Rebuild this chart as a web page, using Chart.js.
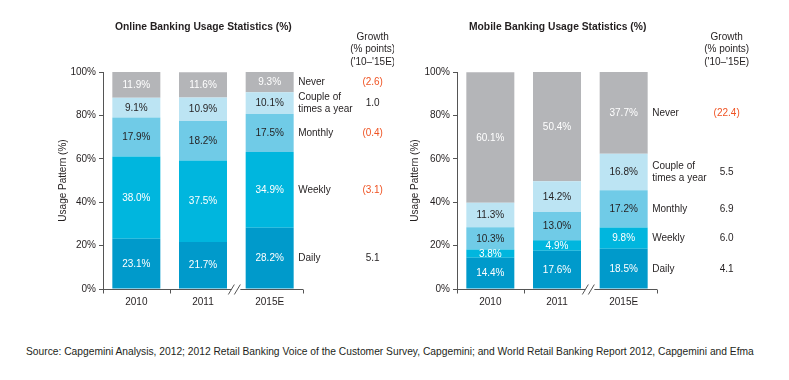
<!DOCTYPE html>
<html>
<head>
<meta charset="utf-8">
<script src="https://cdn.jsdelivr.net/npm/chart.js@4"></script>
<style>
  html, body { margin: 0; padding: 0; background: #fff; }
  body { width: 789px; height: 380px; position: relative; overflow: hidden; font-family: "Liberation Sans", Arial, sans-serif; }
  #c1 { position: absolute; left: 0; top: 0; }
  #c2 { position: absolute; left: 394px; top: 0; }
  #src { position: absolute; left: 26px; top: 346px; font-size: 10.25px; color: #231f20; white-space: nowrap; }
</style>
</head>
<body>
<canvas id="c1" width="394" height="330"></canvas>
<canvas id="c2" width="395" height="330"></canvas>
<div id="src">Source: Capgemini Analysis, 2012; 2012 Retail Banking Voice of the Customer Survey, Capgemini; and World Retail Banking Report 2012, Capgemini and Efma</div>
<script>
// ---- data ----
const categories = ['2010', '2011', '2015E'];
const seriesNames = ['Daily', 'Weekly', 'Monthly', 'Couple of times a year', 'Never'];
const seriesLegend = [['Daily'], ['Weekly'], ['Monthly'], ['Couple of', 'times a year'], ['Never']];

const onlineDaily   = [23.1, 21.7, 28.2];
const onlineWeekly  = [38.0, 37.5, 34.9];
const onlineMonthly = [17.9, 18.2, 17.5];
const onlineCouple  = [9.1, 10.9, 10.1];
const onlineNever   = [11.9, 11.6, 9.3];
const onlineGrowth  = ['5.1', '(3.1)', '(0.4)', '1.0', '(2.6)'];

const mobileDaily   = [14.4, 17.6, 18.5];
const mobileWeekly  = [3.8, 4.9, 9.8];
const mobileMonthly = [10.3, 13.0, 17.2];
const mobileCouple  = [11.3, 14.2, 16.8];
const mobileNever   = [60.1, 50.4, 37.7];
const mobileGrowth  = ['4.1', '6.0', '6.9', '5.5', '(22.4)'];

const yTicks = [0, 20, 40, 60, 80, 100];
const titles = ['Online Banking Usage Statistics (%)', 'Mobile Banking Usage Statistics (%)'];
const growthHeader = ['Growth', '(% points)', "('10\u2013'15E)"];
const yTitle = 'Usage Pattern (%)';

// ---- styling ----
const colors = ['#009acb', '#00b6de', '#70cbe7', '#bce4f3', '#b4b5b8'];
const labelColors = ['#ffffff', '#ffffff', '#231f20', '#231f20', '#ffffff'];
const TXT = '#231f20';
const NEG = '#ef5323';
const FONT = '"Liberation Sans", Arial, sans-serif';

function makeDatasets(arrs) {
  return arrs.map((d, i) => ({
    label: seriesNames[i],
    data: d,
    backgroundColor: colors[i],
    borderWidth: 0,
    barPercentage: 0.72,
    categoryPercentage: 1.0
  }));
}

const overlay = {
  id: 'overlay',
  afterDatasetsDraw(chart, args, opts) {
    const ctx = chart.ctx;
    ctx.save();
    ctx.font = '10px ' + FONT;
    ctx.textAlign = 'center';
    ctx.textBaseline = 'middle';
    chart.data.datasets.forEach((ds, di) => {
      const meta = chart.getDatasetMeta(di);
      meta.data.forEach((bar, i) => {
        const v = ds.data[i];
        const cy = (bar.y + bar.base) / 2;
        ctx.fillStyle = labelColors[di];
        ctx.fillText(v.toFixed(1) + '%', bar.x, cy + 0.5);
      });
    });
    ctx.restore();
  },
  afterDraw(chart, args, opts) {
    const ctx = chart.ctx;
    const area = chart.chartArea;
    const n = categories.length;
    const catW = (area.right - area.left) / n;
    ctx.save();
    // x-axis line with ticks and break
    ctx.strokeStyle = '#555';
    ctx.lineWidth = 1;
    const yb = Math.round(area.bottom) + 0.5;
    const brk = area.left + catW * 2;
    ctx.beginPath();
    ctx.moveTo(area.left, yb); ctx.lineTo(brk - 5, yb);
    ctx.moveTo(brk + 4, yb); ctx.lineTo(area.right, yb);
    [area.left, area.left + catW, area.right].forEach(x => {
      const xx = Math.round(x) + 0.5;
      ctx.moveTo(xx, yb); ctx.lineTo(xx, yb + 4);
    });
    // break marks
    ctx.moveTo(brk - 8, yb + 5); ctx.lineTo(brk - 2, yb - 5);
    ctx.moveTo(brk - 2, yb + 5); ctx.lineTo(brk + 4, yb - 5);
    ctx.stroke();

    // title
    ctx.fillStyle = TXT;
    ctx.font = 'bold 10.3px ' + FONT;
    ctx.textAlign = 'left';
    ctx.textBaseline = 'middle';
    ctx.fillText(opts.title, opts.titleX, 27);

    // right-side legend labels and growth
    const lastIdx = n - 1;
    let barRight = 0;
    ctx.font = '10px ' + FONT;
    chart.data.datasets.forEach((ds, di) => {
      const bar = chart.getDatasetMeta(di).data[lastIdx];
      barRight = bar.x + bar.width / 2;
      const cy = (bar.y + bar.base) / 2;
      const lines = seriesLegend[di];
      ctx.fillStyle = TXT;
      ctx.textAlign = 'left';
      lines.forEach((t, li) => {
        ctx.fillText(t, barRight + 4.5, cy + 0.5 + (li - (lines.length - 1) / 2) * 12);
      });
      const g = opts.growth[di];
      ctx.textAlign = 'center';
      ctx.fillStyle = g.startsWith('(') ? NEG : TXT;
      ctx.fillText(g, barRight + 79, cy + 0.5);
    });
    ctx.fillStyle = TXT;
    ctx.textAlign = 'center';
    growthHeader.forEach((t, i) => ctx.fillText(t, barRight + 79, 37 + i * 12.5));
    ctx.restore();
  }
};

function makeChart(id, arrs, growth, title, titleX, pad, yWidth) {
  return new Chart(document.getElementById(id), {
    type: 'bar',
    data: { labels: categories, datasets: makeDatasets(arrs) },
    options: {
      responsive: false,
      animation: false,
      events: [],
      layout: { padding: pad },
      plugins: {
        legend: { display: false },
        tooltip: { enabled: false },
        title: { display: false },
        overlay: { growth: growth, title: title, titleX: titleX }
      },
      scales: {
        x: {
          stacked: true,
          grid: { display: false },
          border: { display: false },
          ticks: { color: TXT, font: { family: FONT, size: 10 }, padding: -1 },
          afterFit(s) { s.height = 41; }
        },
        y: {
          stacked: true,
          min: 0, max: 100,
          afterBuildTicks(s) { s.ticks = yTicks.map(v => ({ value: v })); },
          grid: { display: true, drawOnChartArea: false, tickLength: 4, color: '#555' },
          border: { display: true, color: '#555' },
          ticks: { color: TXT, font: { family: FONT, size: 10 }, padding: 3, callback: v => v + '%' },
          title: { display: true, text: yTitle, color: TXT, font: { family: FONT, size: 10 }, padding: { top: 7, bottom: 0 } },
          afterFit(s) { s.width = yWidth; }
        }
      }
    },
    plugins: [overlay]
  });
}

makeChart('c1', [onlineDaily, onlineWeekly, onlineMonthly, onlineCouple, onlineNever], onlineGrowth,
  titles[0], 115, { left: 50, right: 91, top: 72, bottom: 0 }, 53);
makeChart('c2', [mobileDaily, mobileWeekly, mobileMonthly, mobileCouple, mobileNever], mobileGrowth,
  titles[1], 75, { left: 8, right: 132, top: 72, bottom: 0 }, 55);
</script>
</body>
</html>
